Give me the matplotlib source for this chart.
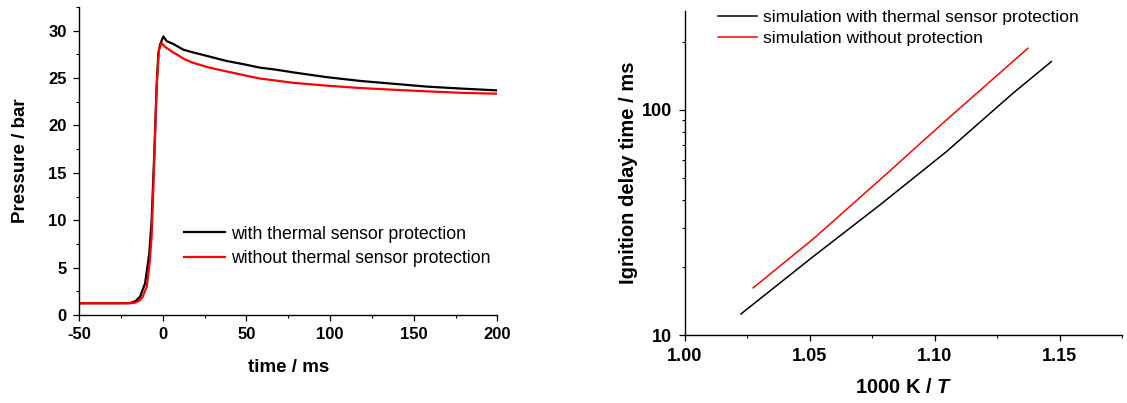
import matplotlib
matplotlib.use("Agg")
import matplotlib.pyplot as plt
from matplotlib.ticker import MultipleLocator, LogLocator, NullFormatter, FuncFormatter

plt.rcParams['font.family'] = ['Liberation Sans', 'DejaVu Sans']
plt.rcParams['mathtext.fontset'] = 'custom'
plt.rcParams['mathtext.it'] = 'Liberation Sans:italic:bold'
plt.rcParams['mathtext.rm'] = 'Liberation Sans:bold'
plt.rcParams['axes.unicode_minus'] = False

# --- left panel: pressure traces ---
t_with = [-50, -30, -20, -18.5, -16, -13.5, -10.5, -8.0, -6.6, -5.0, -3.6, -2.6, -1.6,
          0.4, 2.4, 6.4, 12.3, 18.3, 27.3, 38.3, 47.3, 58.2, 67.3, 78.1, 98.0,
          118.0, 137.9, 157.8, 177.7, 200]
p_with = [1.24, 1.24, 1.25, 1.3, 1.5, 1.93, 3.35, 6.5, 10.0, 17.1, 24.1, 27.6, 28.5,
          29.4, 28.9, 28.6, 28.0, 27.7, 27.3, 26.8, 26.5, 26.1, 25.9, 25.6, 25.1,
          24.7, 24.4, 24.1, 23.9, 23.7]

t_without = [-50, -30, -20, -17, -14, -12, -9.5, -7.8, -6.6, -5.0, -3.6, -2.2, -0.6,
             1.4, 6.4, 8.4, 13.0, 18.3, 28.0, 38.3, 50, 58.2, 78.1, 98.0, 118.0, 137.9,
             157.8, 177.7, 200]
p_without = [1.24, 1.24, 1.24, 1.28, 1.5, 1.9, 3.0, 5.5, 8.3, 16.4, 24.1, 28.0, 28.7,
             28.3, 27.7, 27.5, 27.0, 26.6, 26.1, 25.7, 25.25, 24.95, 24.5, 24.2, 23.95, 23.77,
             23.6, 23.45, 23.35]

# --- right panel: simulated ignition delay times ---
invT_with = [1.0224, 1.0513, 1.078, 1.1047, 1.1313, 1.1467]
tau_with = [12.4, 22.3, 37.8, 65.3, 118.6, 164]

invT_without = [1.0273, 1.0513, 1.078, 1.1047, 1.1373]
tau_without = [16.2, 26.7, 48.9, 90.3, 188]

fig = plt.figure(figsize=(11.27, 4.03), dpi=100)
ax1 = fig.add_axes([0.0701, 0.2184, 0.3712, 0.7642])
ax2 = fig.add_axes([0.6078, 0.1687, 0.3878, 0.8047])

for ax, tsize in ((ax1, 12), (ax2, 13)):
    ax.spines['top'].set_visible(False)
    ax.spines['right'].set_visible(False)
    for s in ('left', 'bottom'):
        ax.spines[s].set_linewidth(1.0)
    ax.tick_params(which='major', direction='out', length=4.5, width=0.9,
                   labelsize=tsize, pad=4.5)
    ax.tick_params(which='minor', direction='out', length=2.5, width=0.8)

ax1.plot(t_with, p_with, color='black', lw=1.6, label='with thermal sensor protection')
ax1.plot(t_without, p_without, color='red', lw=1.6, label='without thermal sensor protection')
ax1.set_xlim(-50, 200)
ax1.set_ylim(0, 32.5)
ax1.xaxis.set_major_locator(MultipleLocator(50))
ax1.xaxis.set_minor_locator(MultipleLocator(25))
ax1.yaxis.set_major_locator(MultipleLocator(5))
ax1.yaxis.set_minor_locator(MultipleLocator(2.5))
ax1.set_xlabel('time / ms', fontsize=13.5, fontweight='bold', labelpad=12)
ax1.set_ylabel('Pressure / bar', fontsize=13.5, fontweight='bold', labelpad=14)
ax1.legend(loc='upper left', bbox_to_anchor=(0.251, 0.29), frameon=False,
           fontsize=12.7, handlelength=2.3, handletextpad=0.35, labelspacing=0.4,
           borderpad=0, borderaxespad=0)

ax2.plot(invT_with, tau_with, color='black', lw=1.1, label='simulation with thermal sensor protection')
ax2.plot(invT_without, tau_without, color='red', lw=1.1, label='simulation without protection')
ax2.set_yscale('log')
ax2.set_xlim(1.0, 1.175)
ax2.set_ylim(10, 276)
ax2.xaxis.set_major_locator(MultipleLocator(0.05))
ax2.xaxis.set_minor_locator(MultipleLocator(0.025))
ax2.xaxis.set_major_formatter(FuncFormatter(lambda v, p: f'{v:.2f}'))
ax2.yaxis.set_major_locator(LogLocator(base=10))
ax2.yaxis.set_minor_locator(LogLocator(base=10, subs=range(2, 10)))
ax2.yaxis.set_major_formatter(FuncFormatter(lambda v, p: f'{v:g}'))
ax2.yaxis.set_minor_formatter(NullFormatter())
ax2.set_xlabel('1000 K / $\\it{T}$', fontsize=14.5, fontweight='bold', labelpad=10)
ax2.set_ylabel('Ignition delay time / ms', fontsize=14.5, fontweight='bold', labelpad=3)
ax2.legend(loc='upper left', bbox_to_anchor=(0.0755, 1.003), frameon=False,
           fontsize=12.5, handlelength=2.25, handletextpad=0.33, labelspacing=0.32,
           borderpad=0, borderaxespad=0)

for ax in (ax1, ax2):
    for lab in ax.get_xticklabels() + ax.get_yticklabels():
        lab.set_fontweight('bold')

fig.savefig('out.png', dpi=100)
